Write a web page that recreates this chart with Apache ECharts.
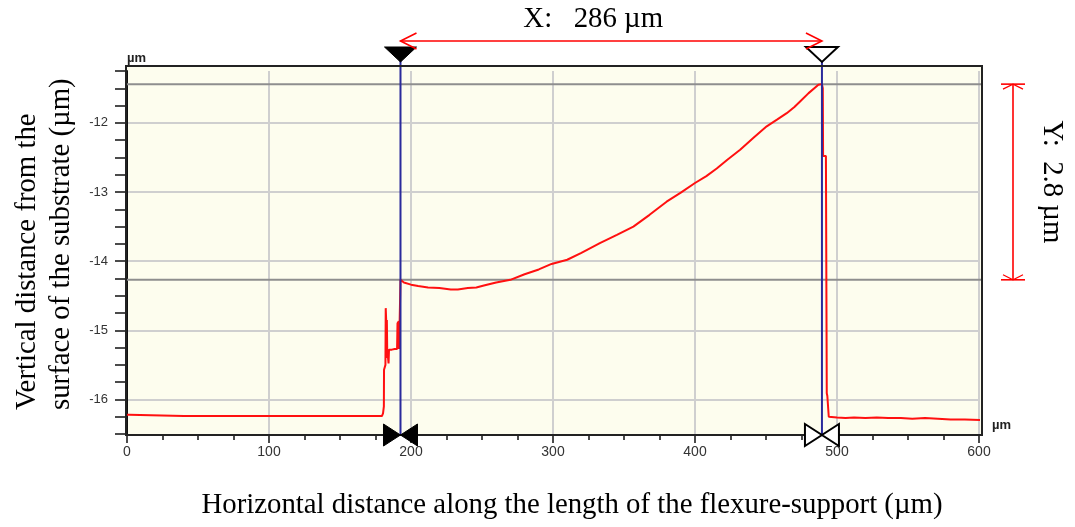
<!DOCTYPE html>
<html>
<head>
<meta charset="utf-8">
<script src="https://cdn.jsdelivr.net/npm/echarts@6/dist/echarts.min.js"></script>
<style>
  html, body { margin: 0; padding: 0; background: #ffffff; }
  #chart { width: 1075px; height: 527px; }
</style>
</head>
<body>
<div id="chart"></div>
<script>
// Surface profile along the flexure-support: horizontal position (µm) and height (µm)
const profileX = [
  0, 1.5, 2.5, 40, 80, 120, 160, 179.5,
  180.3, 180.9, 181.0, 182.0, 182.2, 182.6, 183.0, 183.3, 183.6, 184.2, 184.5,
  186.5, 188.5, 190.2, 190.5, 191.4, 191.6, 192.4, 192.6,
  195, 200, 205, 212, 220, 228, 233, 240, 246, 252,
  260, 270, 280, 290, 299, 310, 320, 333, 345, 356.6,
  368, 380, 390, 400, 408, 415.3, 423, 431.8, 441, 450.5,
  458, 464.6, 470, 474, 480, 486.9, 489.4,
  490.0, 490.2, 492.2, 492.8, 493.2, 494.2, 500, 506, 512, 520,
  528, 536, 545, 553, 562, 571, 580, 590, 602
];
const profileY = [
  -16.22, -16.22, -16.24, -16.24, -16.24, -16.24, -16.24, -16.24,
  -16.2, -16.1, -15.57, -15.5, -14.68, -14.9, -14.85, -15.4, -15.35, -15.48, -15.28,
  -15.28, -15.27, -15.27, -14.9, -14.87, -15.27, -15.25, -14.27,
  -14.31, -14.34, -14.36, -14.38, -14.39, -14.41, -14.41, -14.39, -14.38, -14.35,
  -14.31, -14.27, -14.19, -14.12, -14.04, -13.98, -13.88, -13.74, -13.62, -13.50,
  -13.33, -13.14, -13.01, -12.87, -12.77, -12.66, -12.53, -12.39, -12.22, -12.05,
  -11.95, -11.86, -11.77, -11.69, -11.57, -11.45, -11.44,
  -11.5, -12.48, -12.48, -15.91, -15.95, -16.25, -16.26, -16.27, -16.26, -16.27,
  -16.26, -16.27, -16.27, -16.28, -16.27, -16.28, -16.29, -16.29, -16.3
];

// Measurement cursors (position, height) and their readouts
const cursorX = [192.6, 489.4];
const cursorY = [-14.27, -11.44];
const readoutX = 'X:   286 µm';
const readoutY = 'Y:  2.8 µm';

// Axis ranges and labelled ticks
const xRange = [0, 600];
const yRange = [-16.5, -11.25];
const yLabelValues = [-16, -15, -14, -13, -12];

const xTitle = 'Horizontal distance along the length of the flexure-support (µm)';
const yTitleLines = ['Vertical distance from the', 'surface of the substrate (µm)'];
const unitLabel = 'µm';

const SERIF = '"Liberation Serif", "Times New Roman", serif';
const SANS = '"Liberation Sans", Arial, sans-serif';
const TITLE_SIZE = 28.8;

const chart = echarts.init(document.getElementById('chart'), null, { renderer: 'canvas' });

const profile = profileX.map((x, i) => [x, profileY[i]]);

chart.setOption({
  animation: false,
  backgroundColor: '#ffffff',
  grid: { left: 127, right: 96, top: 71, bottom: 93 },
  xAxis: {
    type: 'value',
    min: xRange[0],
    max: xRange[1],
    interval: 100,
    offset: 1,
    axisLine: { show: true, lineStyle: { color: '#111', width: 2 } },
    axisTick: { show: true, length: 8, lineStyle: { color: '#111', width: 1.5 } },
    minorTick: { show: true, splitNumber: 4, length: 5, lineStyle: { color: '#111', width: 1.5 } },
    axisLabel: { color: '#333', fontSize: 14, fontFamily: SANS, margin: 10 },
    splitLine: { show: true, lineStyle: { color: '#cfcfcf', width: 2 } }
  },
  yAxis: {
    type: 'value',
    min: yRange[0],
    max: yRange[1],
    interval: 0.25,
    axisLine: { show: true, lineStyle: { color: '#111', width: 2 } },
    axisTick: { show: true, length: 12, lineStyle: { color: '#111', width: 1.5 } },
    axisLabel: {
      color: '#333', fontSize: 13, fontFamily: SANS, margin: 19,
      formatter: v => (yLabelValues.indexOf(v) >= 0 ? String(v) : '')
    },
    // grid lines only at the whole-micron ticks (every fourth tick, starting at -16.5)
    splitLine: {
      show: true,
      lineStyle: { color: ['rgba(0,0,0,0)', 'rgba(0,0,0,0)', '#cfcfcf', 'rgba(0,0,0,0)'], width: 2 }
    }
  },
  series: [{
    type: 'line',
    data: profile,
    clip: false,
    showSymbol: false,
    symbol: 'none',
    z: 5,
    lineStyle: { color: '#ff1010', width: 2 }
  }]
});

function overlays() {
  const toPx = (x, y) => chart.convertToPixel({ xAxisIndex: 0, yAxisIndex: 0 }, [x, y]);
  const p1 = toPx(cursorX[0], cursorY[0]);
  const p2 = toPx(cursorX[1], cursorY[1]);
  const origin = toPx(xRange[0], yRange[0]);

  const frame = { left: 126, top: 66, right: 982, bottom: 435 };
  const axisY = origin[1] + 1;
  const red = '#ff0000';
  const els = [];

  // plot background and frame
  els.push({ type: 'rect', z: -100, silent: true,
    shape: { x: frame.left, y: frame.top, width: frame.right - frame.left, height: frame.bottom - frame.top },
    style: { fill: '#fdfdee', stroke: null } });
  els.push({ type: 'rect', z: 60, silent: true,
    shape: { x: frame.left, y: frame.top, width: frame.right - frame.left, height: frame.bottom - frame.top },
    style: { fill: null, stroke: '#222', lineWidth: 2 } });

  // horizontal cursor lines
  [p1[1], p2[1]].forEach(y => {
    els.push({ type: 'line', z: 3, silent: true,
      shape: { x1: frame.left, y1: y, x2: frame.right, y2: y },
      style: { stroke: '#8e8e8e', lineWidth: 2 } });
  });

  // vertical cursor lines
  [p1[0], p2[0]].forEach(x => {
    els.push({ type: 'line', z: 6, silent: true,
      shape: { x1: x, y1: 60, x2: x, y2: axisY },
      style: { stroke: '#2a2a9c', lineWidth: 2 } });
  });

  // cursor handles: filled for the first cursor, outlined for the second
  [[p1[0], true], [p2[0], false]].forEach(([x, filled]) => {
    const st = filled ? { fill: '#000', stroke: '#000', lineWidth: 1 }
                      : { fill: '#fff', stroke: '#000', lineWidth: 2 };
    els.push({ type: 'polygon', z: 70, silent: true,
      shape: { points: [[x - 16, 47], [x + 16, 47], [x, 62]] }, style: st });
    els.push({ type: 'polygon', z: 70, silent: true,
      shape: { points: [[x - 17, axisY - 11], [x - 17, axisY + 11], [x, axisY]] }, style: st });
    els.push({ type: 'polygon', z: 70, silent: true,
      shape: { points: [[x + 17, axisY - 11], [x + 17, axisY + 11], [x, axisY]] }, style: st });
  });

  // horizontal dimension arrow
  const ay = 41;
  els.push({ type: 'line', z: 70, silent: true,
    shape: { x1: p1[0], y1: ay, x2: p2[0], y2: ay }, style: { stroke: red, lineWidth: 1.6 } });
  els.push({ type: 'polyline', z: 70, silent: true,
    shape: { points: [[p1[0] + 16, ay - 8], [p1[0], ay], [p1[0] + 16, ay + 8]] },
    style: { stroke: red, lineWidth: 1.6, fill: null } });
  els.push({ type: 'polyline', z: 70, silent: true,
    shape: { points: [[p2[0] - 16, ay - 8], [p2[0], ay], [p2[0] - 16, ay + 8]] },
    style: { stroke: red, lineWidth: 1.6, fill: null } });

  // vertical dimension arrow
  const ax = 1013;
  els.push({ type: 'line', z: 70, silent: true,
    shape: { x1: ax, y1: p2[1], x2: ax, y2: p1[1] }, style: { stroke: red, lineWidth: 1.6 } });
  [[p2[1], 1], [p1[1], -1]].forEach(([y, d]) => {
    els.push({ type: 'line', z: 70, silent: true,
      shape: { x1: ax - 12, y1: y, x2: ax + 12, y2: y }, style: { stroke: red, lineWidth: 1.6 } });
    els.push({ type: 'polyline', z: 70, silent: true,
      shape: { points: [[ax - 10, y + 5 * d], [ax, y], [ax + 10, y + 5 * d]] },
      style: { stroke: red, lineWidth: 1.2, fill: null } });
  });

  // readouts
  els.push({ type: 'text', z: 80, silent: true, x: (p1[0] + p2[0]) / 2 - 18, y: 19,
    style: { text: readoutX, fontSize: TITLE_SIZE, fontFamily: SERIF, fill: '#000',
      textAlign: 'center', textVerticalAlign: 'middle' } });
  els.push({ type: 'text', z: 80, silent: true, x: 1052, y: (p1[1] + p2[1]) / 2,
    rotation: -Math.PI / 2,
    style: { text: readoutY, fontSize: TITLE_SIZE, fontFamily: SERIF, fill: '#000',
      textAlign: 'center', textVerticalAlign: 'middle' } });

  // axis titles
  els.push({ type: 'text', z: 80, silent: true, x: 572, y: 505,
    style: { text: xTitle, fontSize: TITLE_SIZE, fontFamily: SERIF, fill: '#000',
      textAlign: 'center', textVerticalAlign: 'middle' } });
  yTitleLines.forEach((line, i) => {
    els.push({ type: 'text', z: 80, silent: true, x: 27 + i * 34, y: 410,
      rotation: Math.PI / 2,
      style: { text: line, fontSize: TITLE_SIZE, fontFamily: SERIF, fill: '#000',
        textAlign: 'left', textVerticalAlign: 'middle' } });
  });

  // unit tags
  els.push({ type: 'text', z: 80, silent: true, x: 127, y: 58,
    style: { text: unitLabel, fontSize: 13, fontWeight: 'bold', fontFamily: SANS, fill: '#222',
      textAlign: 'left', textVerticalAlign: 'middle' } });
  els.push({ type: 'text', z: 80, silent: true, x: 992, y: 425,
    style: { text: unitLabel, fontSize: 13, fontWeight: 'bold', fontFamily: SANS, fill: '#222',
      textAlign: 'left', textVerticalAlign: 'middle' } });

  chart.setOption({ graphic: { elements: els } });
}

overlays();
</script>
</body>
</html>
